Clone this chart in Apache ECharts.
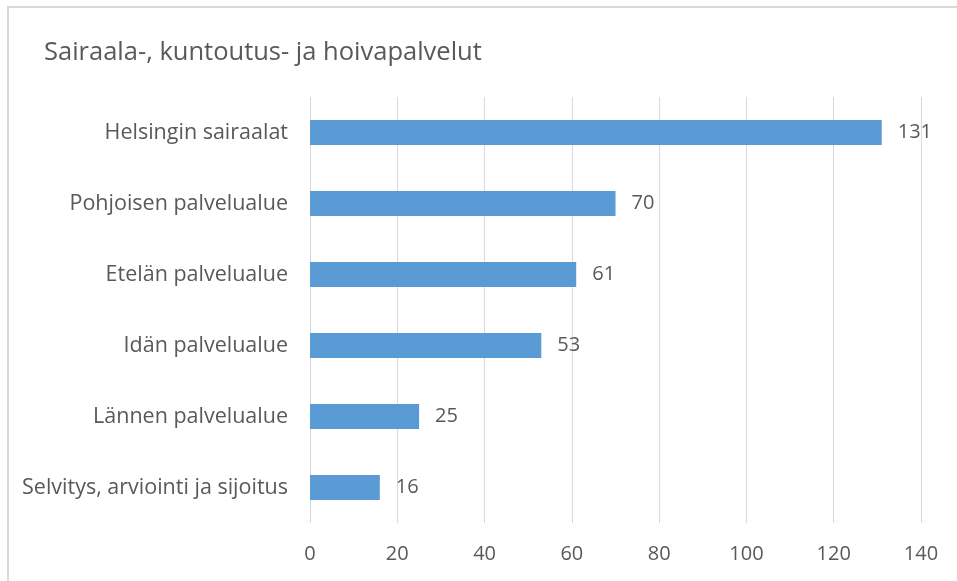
<!DOCTYPE html>
<html>
<head>
<meta charset="utf-8">
<script src="https://cdn.jsdelivr.net/npm/echarts@6/dist/echarts.min.js"></script>
<style>
  html, body { margin: 0; padding: 0; background: #fff; }
  #chart { width: 957px; height: 581px; }
</style>
</head>
<body>
<div id="chart"></div>
<script>
var chart = echarts.init(document.getElementById('chart'));

// data
var categories = ['Helsingin sairaalat', 'Pohjoisen palvelualue', 'Etelän palvelualue',
                  'Idän palvelualue', 'Lännen palvelualue', 'Selvitys, arviointi ja sijoitus'];
var values = [131, 70, 61, 53, 25, 16];
var xTicks = [0, 20, 40, 60, 80, 100, 120, 140];

var fontName = 'Open Sans';

option = {
    backgroundColor: '#fff',
    animation: false,
    title: {
        text: 'Sairaala-, kuntoutus- ja hoivapalvelut',
        left: 39,
        top: 35,
        textStyle: {
            color: '#595959',
            fontFamily: fontName,
            fontWeight: 'normal',
            fontSize: 25.5
        }
    },
    graphic: [{
        type: 'rect',
        shape: { x: 8, y: 7, width: 960, height: 580 },
        style: { fill: 'none', stroke: '#d9d9d9', lineWidth: 2 },
        silent: true
    }],
    grid: {
        left: 310,
        right: 36,
        top: 97,
        bottom: 58
    },
    xAxis: {
        type: 'value',
        min: xTicks[0],
        max: xTicks[xTicks.length - 1],
        interval: 20,
        axisLine: { show: false },
        axisTick: { show: false },
        splitLine: { lineStyle: { color: '#d9d9d9', width: 1 } },
        axisLabel: {
            color: '#595959',
            fontFamily: fontName,
            fontSize: 20,
            margin: 21
        }
    },
    yAxis: {
        type: 'category',
        inverse: true,
        data: categories,
        axisLine: { show: false },
        axisTick: { show: false },
        axisLabel: {
            color: '#595959',
            fontFamily: fontName,
            fontSize: 21.5,
            margin: 22
        }
    },
    series: [{
        type: 'bar',
        data: values,
        barWidth: 25,
        itemStyle: { color: '#5b9bd5' },
        label: {
            show: true,
            position: 'right',
            distance: 16,
            color: '#595959',
            fontFamily: fontName,
            fontSize: 20
        }
    }]
};

chart.setOption(option);
</script>
</body>
</html>
